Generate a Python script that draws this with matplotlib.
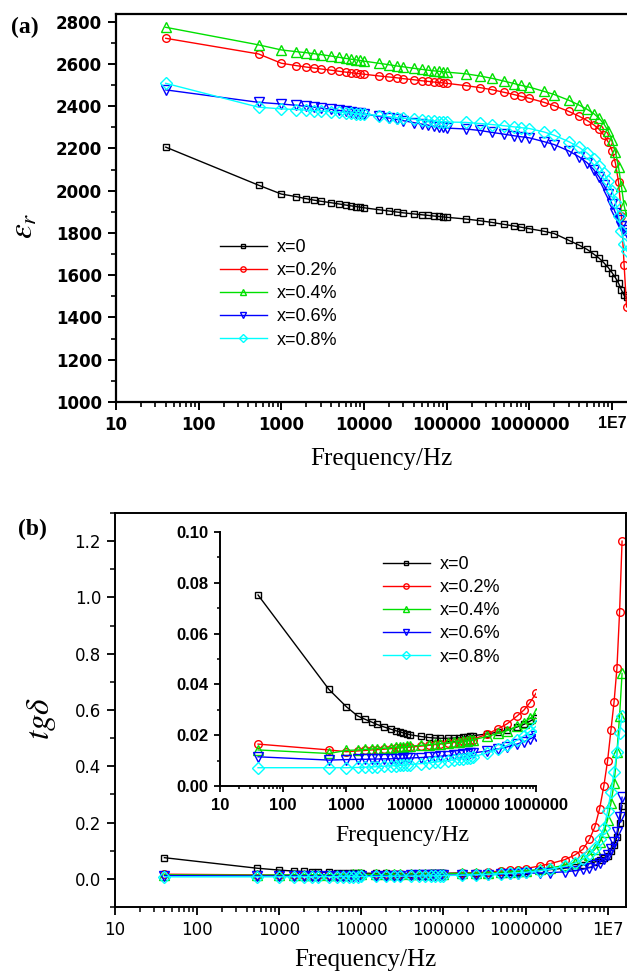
import numpy as np
import matplotlib
matplotlib.use('Agg')
import matplotlib.pyplot as plt
from matplotlib.ticker import LogLocator, MultipleLocator, NullFormatter

# sweep frequencies (Hz)
freq = [40, 530, 1000, 1500, 2000, 2500, 3000, 4000, 5000, 6000, 7000, 8000, 9000,
        10000, 15000, 20000, 25000, 30000, 40000, 50000, 60000, 70000, 80000, 90000,
        100000, 170000, 250000, 350000, 500000, 650000, 800000, 1000000,
        1500000, 2000000, 3000000, 4000000, 5000000, 6000000, 7000000, 8000000,
        9000000, 10000000, 11000000, 12000000, 13000000, 14000000, 15000000]

# permittivity
eps_x0 = [2206, 2026, 1984, 1972, 1962, 1955, 1950, 1943, 1937, 1932, 1928, 1925, 1922,
          1919, 1910, 1904, 1899, 1895, 1890, 1886, 1883, 1880, 1878, 1876,
          1874, 1866, 1858, 1850, 1840, 1833, 1827, 1820,
          1808, 1797, 1765, 1742, 1722, 1700, 1680, 1658,
          1636, 1612, 1588, 1562, 1530, 1505, 1495]
eps_x02 = [2721, 2647, 2603, 2592, 2585, 2580, 2576, 2570, 2565, 2561, 2558, 2555, 2553,
           2551, 2543, 2538, 2534, 2530, 2525, 2520, 2517, 2514, 2512, 2510,
           2508, 2497, 2488, 2478, 2465, 2455, 2446, 2437,
           2418, 2402, 2375, 2352, 2332, 2312, 2290, 2262,
           2230, 2190, 2130, 2040, 1880, 1650, 1450]
eps_x04 = [2773, 2690, 2666, 2658, 2653, 2648, 2644, 2637, 2631, 2626, 2622, 2619, 2616,
           2613, 2603, 2596, 2590, 2586, 2579, 2574, 2570, 2567, 2565, 2563,
           2561, 2553, 2543, 2532, 2518, 2507, 2498, 2490,
           2470, 2455, 2428, 2405, 2385, 2365, 2342, 2315,
           2282, 2240, 2185, 2110, 2020, 1930, 1880]
eps_x06 = [2477, 2418, 2410, 2404, 2399, 2395, 2391, 2385, 2380, 2376, 2372, 2369, 2366,
           2363, 2352, 2344, 2337, 2331, 2322, 2315, 2310, 2305, 2302, 2299,
           2296, 2292, 2285, 2276, 2267, 2260, 2255, 2250,
           2232, 2218, 2188, 2160, 2132, 2100, 2065, 2025,
           1985, 1935, 1895, 1860, 1835, 1815, 1800]
eps_x08 = [2508, 2395, 2387, 2384, 2381, 2379, 2377, 2374, 2371, 2369, 2367, 2365, 2363,
           2362, 2355, 2350, 2346, 2343, 2338, 2334, 2331, 2329, 2327, 2326,
           2325, 2323, 2318, 2313, 2307, 2302, 2298, 2294,
           2278, 2262, 2232, 2205, 2178, 2150, 2118, 2082,
           2045, 2000, 1945, 1880, 1810, 1750, 1715]

# loss tangent
tand_x0 = [0.0752, 0.038, 0.0312, 0.0276, 0.0262, 0.0252, 0.0243, 0.0232, 0.0224, 0.0218,
           0.0213, 0.0209, 0.0205, 0.0202, 0.0195, 0.0191, 0.0189, 0.0188, 0.0188, 0.0189,
           0.0190, 0.0192, 0.0194, 0.0196, 0.0198, 0.0205, 0.0212, 0.0220, 0.0232, 0.0243,
           0.0255, 0.0268, 0.030, 0.033, 0.038, 0.043, 0.048, 0.054, 0.060, 0.067,
           0.074, 0.082, 0.10, 0.12, 0.15, 0.20, 0.26]
tand_x02 = [0.0165, 0.0142, 0.0135, 0.0138, 0.014, 0.0142, 0.0143, 0.0145, 0.0147, 0.0149,
            0.015, 0.0151, 0.0152, 0.0153, 0.0157, 0.016, 0.0163, 0.0165, 0.0168, 0.0171,
            0.0174, 0.0176, 0.0178, 0.018, 0.0183, 0.0205, 0.0225, 0.0245, 0.0275, 0.030,
            0.0328, 0.0365, 0.046, 0.054, 0.068, 0.085, 0.105, 0.14, 0.185, 0.25,
            0.33, 0.42, 0.53, 0.63, 0.75, 0.95, 1.2]
tand_x04 = [0.0142, 0.0128, 0.014, 0.0142, 0.0144, 0.0146, 0.0147, 0.0149, 0.0151, 0.0153,
            0.0154, 0.0155, 0.0156, 0.0157, 0.016, 0.0163, 0.0165, 0.0167, 0.017, 0.0173,
            0.0175, 0.0177, 0.0179, 0.018, 0.0182, 0.0195, 0.0207, 0.0218, 0.0235, 0.025,
            0.0266, 0.0286, 0.034, 0.039, 0.048, 0.058, 0.07, 0.085, 0.105, 0.13,
            0.165, 0.21, 0.27, 0.34, 0.45, 0.58, 0.73]
tand_x06 = [0.0115, 0.0102, 0.0104, 0.0105, 0.0105, 0.0106, 0.0106, 0.0107, 0.0107, 0.0108,
            0.0108, 0.0109, 0.0109, 0.011, 0.0112, 0.0114, 0.0116, 0.0117, 0.012, 0.0122,
            0.0124, 0.0125, 0.0127, 0.0128, 0.013, 0.0138, 0.0146, 0.0154, 0.0165, 0.0175,
            0.0185, 0.0197, 0.021, 0.022, 0.025, 0.029, 0.034, 0.04, 0.048, 0.058,
            0.07, 0.085, 0.105, 0.13, 0.165, 0.22, 0.29]
tand_x08 = [0.0072, 0.0072, 0.0072, 0.0073, 0.0074, 0.0075, 0.0076, 0.0078, 0.0079, 0.008,
            0.0081, 0.0082, 0.0083, 0.0084, 0.0088, 0.0091, 0.0094, 0.0096, 0.01, 0.0103,
            0.0106, 0.0108, 0.011, 0.0112, 0.0115, 0.013, 0.0145, 0.016, 0.018, 0.0198,
            0.0215, 0.0235, 0.029, 0.034, 0.044, 0.056, 0.07, 0.088, 0.11, 0.14,
            0.18, 0.24, 0.31, 0.38, 0.45, 0.52, 0.58]

labels = ['x=0', 'x=0.2%', 'x=0.4%', 'x=0.6%', 'x=0.8%']
colors = ['black', 'red', '#00e000', 'blue', 'cyan']
markers = ['s', 'o', '^', 'v', 'D']
msizes = [5, 5.5, 7, 7, 6.5]

decade_ticks = [10, 100, 1000, 10000, 100000, 1000000, 10000000]
decade_labels = ['10', '100', '1000', '10000', '100000', '1000000', '1E7']
eps_ticks = [1000, 1200, 1400, 1600, 1800, 2000, 2200, 2400, 2600, 2800]
tand_ticks = [0.0, 0.2, 0.4, 0.6, 0.8, 1.0, 1.2]
inset_ticks = [0.00, 0.02, 0.04, 0.06, 0.08, 0.10]

plt.rcParams['mathtext.fontset'] = 'stix'

W, H = 627, 976
fig = plt.figure(figsize=(W / 100, H / 100), dpi=100)


def px_axes(left, top, right, bottom):
    return fig.add_axes([left / W, 1 - bottom / H, (right - left) / W, (bottom - top) / H])


def draw_series(ax, x, series, n=None):
    for y, c, m, s, lab in zip(series, colors, markers, msizes, labels):
        xs = x if n is None else x[:n]
        ys = y if n is None else y[:n]
        ax.plot(xs, ys, color=c, marker=m, ms=s, mfc='none', mew=1.0, lw=1.0, label=lab)


def log_axis(ax, ticks, ticklabels, **font):
    ax.set_xscale('log')
    ax.set_xticks(ticks, labels=ticklabels, **font)
    ax.xaxis.set_minor_locator(LogLocator(base=10, subs=np.arange(2, 10), numticks=100))
    ax.xaxis.set_minor_formatter(NullFormatter())


legend_kw = dict(frameon=False, prop={'family': 'Liberation Sans', 'size': 13}, handlelength=2.6,
                 handletextpad=0.55, labelspacing=0.34, borderpad=0, borderaxespad=0,
                 markerscale=0.7, bbox_transform=fig.transFigure, loc='upper left')

# (a) permittivity
ax1 = px_axes(116, 14, 632, 402)
draw_series(ax1, freq, [eps_x0, eps_x02, eps_x04, eps_x06, eps_x08])
log_axis(ax1, decade_ticks, decade_labels, fontfamily='DejaVu Sans', fontweight='bold', fontsize=12)
# the last decade label sits at the right border, give it a narrower face
last = ax1.get_xticklabels()[-1]
last.set_fontfamily('Liberation Sans')
last.set_fontweight('bold')
last.set_fontsize(11.5)
ax1.set_xlim(10, 10 ** (1 + 516 / 82.67))
ax1.set_ylim(1000, 2836)
ax1.set_yticks(eps_ticks, labels=[str(t) for t in eps_ticks],
               fontfamily='DejaVu Sans', fontweight='bold', fontsize=12)
ax1.yaxis.set_minor_locator(MultipleLocator(100))
for sp in ax1.spines.values():
    sp.set_linewidth(1.6)
ax1.tick_params(which='major', direction='out', length=6, width=1.4, pad=4)
ax1.tick_params(which='minor', direction='out', length=3.5, width=1.2)
ax1.set_xlabel('Frequency/Hz', fontfamily='Liberation Serif', fontsize=18)
ax1.xaxis.set_label_coords(0.5136, -0.118)
ax1.legend(bbox_to_anchor=(220 / W, 1 - 239 / H), **legend_kw)

# (b) loss tangent
ax2 = px_axes(115, 513, 626, 907)
draw_series(ax2, freq, [tand_x0, tand_x02, tand_x04, tand_x06, tand_x08])
log_axis(ax2, decade_ticks, decade_labels, fontfamily='DejaVu Sans', fontsize=12)
ax2.set_xlim(10, 10 ** (1 + 511 / 82.1))
ax2.set_ylim(-0.1, 1.3)
ax2.set_yticks(tand_ticks, labels=['%.1f' % t for t in tand_ticks], fontfamily='DejaVu Sans', fontsize=12)
ax2.yaxis.set_minor_locator(MultipleLocator(0.1))
for sp in ax2.spines.values():
    sp.set_linewidth(1.4)
ax2.tick_params(which='major', direction='out', length=6, width=1.3, pad=4)
ax2.tick_params(which='minor', direction='out', length=3.5, width=1.1)
ax2.set_xlabel('Frequency/Hz', fontfamily='Liberation Serif', fontsize=18)
ax2.xaxis.set_label_coords(0.490, -0.106)

# inset: low-frequency loss
ax3 = px_axes(220, 532, 536, 786)
draw_series(ax3, freq, [tand_x0, tand_x02, tand_x04, tand_x06, tand_x08], n=32)
log_axis(ax3, decade_ticks[:6], decade_labels[:6], fontfamily='Liberation Sans', fontweight='bold', fontsize=12)
ax3.set_xlim(10, 1e6)
ax3.set_ylim(0, 0.1)
ax3.set_yticks(inset_ticks, labels=['%.2f' % t for t in inset_ticks],
               fontfamily='Liberation Sans', fontweight='bold', fontsize=12)
ax3.yaxis.set_minor_locator(MultipleLocator(0.01))
ax3.spines['top'].set_visible(False)
ax3.spines['right'].set_visible(False)
for sp in ('left', 'bottom'):
    ax3.spines[sp].set_linewidth(1.4)
ax3.tick_params(which='major', direction='out', length=4.5, width=1.3, pad=4)
ax3.tick_params(which='minor', direction='out', length=2.5, width=1.1)
ax3.set_xlabel('Frequency/Hz', fontfamily='Liberation Serif', fontsize=17)
ax3.xaxis.set_label_coords(0.576, -0.155)
ax3.legend(bbox_to_anchor=(383 / W, 1 - 556 / H), **legend_kw)

# y labels and panel tags
fig.text(23 / W, 1 - 226 / H, r'$\varepsilon_r$', rotation=90, ha='center', va='center', fontsize=24)
fig.text(41 / W, 1 - 718 / H, r'$tg\delta$', rotation=90, ha='center', va='center', fontsize=24)
fig.text(25 / W, 1 - 27.5 / H, '(a)', fontfamily='Liberation Serif', fontweight='bold',
         fontsize=17, ha='center', va='center')
fig.text(32.5 / W, 1 - 529 / H, '(b)', fontfamily='Liberation Serif', fontweight='bold',
         fontsize=17, ha='center', va='center')

fig.savefig('out.png', dpi=100)
